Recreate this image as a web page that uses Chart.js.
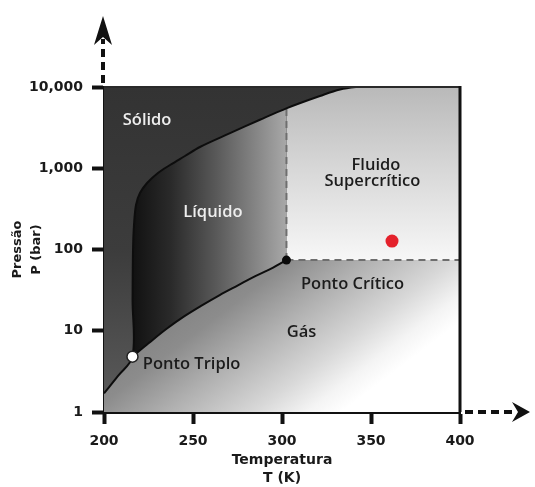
<!DOCTYPE html>
<html lang="pt">
<head>
<meta charset="utf-8">
<title>Diagrama de fases</title>
<script src="https://cdn.jsdelivr.net/npm/chart.js@4.4.1/dist/chart.umd.min.js"></script>
<style>
html,body{margin:0;padding:0;background:#fff;}
canvas{display:block;}
</style>
</head>
<body>
<canvas id="c" width="535" height="487"></canvas>
<script>
// Faixas dos eixos
const tempRange = [200, 400];
const pressureRange = [1, 10000];

// Curva de sublimação seguida da curva de fusão (T em K, P em bar)
const solidBoundaryT = [200, 208, 216, 216.05, 216.3, 216.85, 217.98, 220.2, 224.2, 230.3, 237.1, 245.5, 253.9, 270.8, 287.6, 302.8, 321.3, 332.6, 344, 356];
const solidBoundaryP = [1.7, 2.8, 4.8, 23.9, 98.6, 200, 353, 496, 658, 874, 1096, 1415, 1827, 2700, 3950, 5500, 7740, 9310, 10150, 10800];

// Curva de vaporização, do ponto triplo ao ponto crítico
const vaporizationT = [216, 225, 235, 245, 255, 265, 275, 285, 295, 302.5];
const vaporizationP = [4.8, 7.0, 10.5, 15, 20.5, 27.5, 36, 47, 60, 74];

// Pontos notáveis
const triplePoint = [216, 4.8];
const criticalPoint = [302.5, 74];
const samplePoint = [361.8, 127];

// Marcas dos eixos
const xTickValues = [200, 250, 300, 350, 400];
const yTickValues = [1, 10, 100, 1000, 10000];
const yTickLabels = ['1', '10', '100', '1,000', '10,000'];

// Rótulos das regiões
const regionNames = ['Sólido', 'Líquido', 'Fluido', 'Supercrítico', 'Ponto Crítico', 'Gás', 'Ponto Triplo'];
const regionNameT = [224.2, 261.2, 352.8, 350.8, 339.6, 311, 249.2];
const regionNameP = [3925, 290, 1096, 697, 37.6, 9.65, 3.9];

const pts = (xs, ys) => xs.map((x, i) => ({x: x, y: ys[i]}));

function area(ctx) { return ctx.chart.chartArea; }

function gasFill(ctx) {
  const a = area(ctx);
  if (!a) return '#aaa';
  const w = a.right - a.left, h = a.bottom - a.top;
  const g = ctx.chart.ctx.createLinearGradient(a.left, a.top + h * 0.53, a.left + w * 0.45, a.top + h * 1.18);
  g.addColorStop(0, '#6c6c6c');
  g.addColorStop(0.43, '#8c8c8c');
  g.addColorStop(0.6, '#b0b0b0');
  g.addColorStop(0.8, '#d8d8d8');
  g.addColorStop(0.92, '#f4f4f4');
  g.addColorStop(1, '#ffffff');
  return g;
}

function superFill(ctx) {
  const a = area(ctx);
  if (!a) return '#ddd';
  const ys = ctx.chart.scales.y;
  const g = ctx.chart.ctx.createLinearGradient(0, a.top, 0, ys.getPixelForValue(criticalPoint[1]));
  g.addColorStop(0, '#b9b9b9');
  g.addColorStop(0.45, '#d6d6d6');
  g.addColorStop(1, '#f7f7f7');
  return g;
}

function liquidFill(ctx) {
  const a = area(ctx);
  if (!a) return '#555';
  const xs = ctx.chart.scales.x;
  const g = ctx.chart.ctx.createLinearGradient(xs.getPixelForValue(triplePoint[0]), 0, xs.getPixelForValue(criticalPoint[0]), 0);
  g.addColorStop(0, '#111111');
  g.addColorStop(0.25, '#2a2a2a');
  g.addColorStop(0.55, '#5a5a5a');
  g.addColorStop(0.8, '#858585');
  g.addColorStop(1, '#a8a8a8');
  return g;
}

function solidFill(ctx) {
  const a = area(ctx);
  if (!a) return '#333';
  const g = ctx.chart.ctx.createLinearGradient(0, a.top, 0, a.bottom);
  g.addColorStop(0, '#333333');
  g.addColorStop(0.5, '#3c3c3c');
  g.addColorStop(1, '#5c5c5c');
  return g;
}

// Rótulos das regiões, posicionados pelas escalas do gráfico
const regionLabelPlugin = {
  id: 'regionLabels',
  afterDatasetsDraw(chart) {
    const c = chart.ctx, xs = chart.scales.x, ys = chart.scales.y;
    c.save();
    c.textAlign = 'center';
    c.textBaseline = 'middle';
    c.font = '600 16.5px "Open Sans"';
    regionNames.forEach((name, i) => {
      c.fillStyle = i < 2 ? '#eeeeee' : '#1c1c1c';
      c.fillText(name, xs.getPixelForValue(regionNameT[i]), ys.getPixelForValue(regionNameP[i]));
    });
    c.restore();
  }
};

// Moldura superior/direita e setas tracejadas dos eixos
const frameArrowPlugin = {
  id: 'frameArrows',
  afterDraw(chart) {
    const c = chart.ctx, a = chart.chartArea;
    c.save();
    c.strokeStyle = '#2a2a2a';
    c.lineWidth = 2;
    c.beginPath();
    c.moveTo(a.left, a.top);
    c.lineTo(a.right, a.top);
    c.stroke();
    c.strokeStyle = '#111';
    c.lineWidth = 3;
    c.beginPath();
    c.moveTo(a.right, a.top - 1);
    c.lineTo(a.right, a.bottom);
    c.stroke();

    c.fillStyle = '#111';
    c.strokeStyle = '#111';
    c.lineWidth = 4;
    c.setLineDash([8, 5]);
    // eixo vertical
    const vx = a.left - 1;
    c.beginPath();
    c.moveTo(vx, a.top - 4);
    c.lineTo(vx, a.top - 48);
    c.stroke();
    // eixo horizontal
    const hy = a.bottom;
    c.beginPath();
    c.moveTo(a.right + 5, hy);
    c.lineTo(a.right + 52, hy);
    c.stroke();
    c.setLineDash([]);
    c.beginPath();
    c.moveTo(vx, a.top - 71);
    c.lineTo(vx - 9, a.top - 42);
    c.lineTo(vx, a.top - 50);
    c.lineTo(vx + 9, a.top - 42);
    c.closePath();
    c.fill();
    c.beginPath();
    c.moveTo(a.right + 70, hy);
    c.lineTo(a.right + 52, hy - 10);
    c.lineTo(a.right + 58, hy);
    c.lineTo(a.right + 52, hy + 10);
    c.closePath();
    c.fill();
    c.restore();
  }
};

const tickFont = {family: 'DejaVu Sans', weight: 'bold', size: 14};

new Chart(document.getElementById('c'), {
  type: 'line',
  data: {
    datasets: [
      {
        label: 'Ponto Triplo',
        data: [{x: triplePoint[0], y: triplePoint[1]}],
        showLine: false, pointRadius: 5.5, pointBackgroundColor: '#ffffff',
        pointBorderColor: '#222', pointBorderWidth: 1.5, order: 0
      },
      {
        label: 'Ponto Crítico',
        data: [{x: criticalPoint[0], y: criticalPoint[1]}],
        showLine: false, pointRadius: 4.5, pointBackgroundColor: '#0a0a0a',
        pointBorderColor: '#0a0a0a', pointBorderWidth: 0, order: 0
      },
      {
        label: 'Amostra',
        data: [{x: samplePoint[0], y: samplePoint[1]}],
        showLine: false, pointRadius: 6.5, pointBackgroundColor: '#e4212b',
        pointBorderColor: '#e4212b', pointBorderWidth: 0, order: 0
      },
      {
        label: 'Sólido',
        data: pts(solidBoundaryT, solidBoundaryP),
        borderColor: '#0d0d0d', borderWidth: 2, backgroundColor: solidFill,
        fill: 'end', tension: 0.35, pointRadius: 0, order: 1
      },
      {
        label: 'Isoterma crítica',
        data: [{x: criticalPoint[0], y: criticalPoint[1]}, {x: criticalPoint[0], y: pressureRange[1]}],
        borderColor: '#6e6e6e', borderWidth: 2, borderDash: [7, 5],
        fill: false, pointRadius: 0, order: 2
      },
      {
        label: 'Isóbara crítica',
        data: [{x: criticalPoint[0], y: criticalPoint[1]}, {x: tempRange[1], y: criticalPoint[1]}],
        borderColor: '#6e6e6e', borderWidth: 2, borderDash: [7, 5],
        fill: false, pointRadius: 0, order: 2
      },
      {
        label: 'Líquido',
        data: pts(vaporizationT, vaporizationP),
        borderColor: '#0d0d0d', borderWidth: 2, backgroundColor: liquidFill,
        fill: 'end', tension: 0.35, pointRadius: 0, order: 3
      },
      {
        label: 'Fluido Supercrítico',
        data: [{x: criticalPoint[0], y: pressureRange[1]}, {x: tempRange[1], y: pressureRange[1]}],
        borderWidth: 0, borderColor: 'rgba(0,0,0,0)', backgroundColor: superFill,
        fill: {value: criticalPoint[1]}, pointRadius: 0, order: 4
      },
      {
        label: 'Gás',
        data: [{x: tempRange[0], y: pressureRange[0]}, {x: tempRange[1], y: pressureRange[0]}],
        borderWidth: 0, borderColor: 'rgba(0,0,0,0)', backgroundColor: gasFill,
        fill: 'end', pointRadius: 0, order: 5
      }
    ]
  },
  options: {
    responsive: false,
    devicePixelRatio: 1,
    animation: false,
    events: [],
    layout: {padding: {top: 87, right: 75, left: 0, bottom: 0}},
    plugins: {legend: {display: false}, tooltip: {enabled: false}},
    scales: {
      x: {
        type: 'linear',
        min: tempRange[0], max: tempRange[1],
        afterBuildTicks: s => { s.ticks = xTickValues.map(v => ({value: v})); },
        afterFit: s => { s.height = 75; },
        grid: {display: true, drawOnChartArea: false, drawTicks: true, tickLength: 12, tickWidth: 4, tickColor: '#111'},
        border: {display: true, color: '#111', width: 3},
        ticks: {font: tickFont, color: '#1a1a1a', padding: 9, maxRotation: 0},
        title: {
          display: true, text: ['Temperatura', 'T (K)'], color: '#1a1a1a',
          font: {family: 'DejaVu Sans', weight: 'bold', size: 14, lineHeight: 1.29},
          padding: {top: 0, bottom: 0}
        }
      },
      y: {
        type: 'logarithmic',
        min: pressureRange[0], max: pressureRange[1],
        afterBuildTicks: s => { s.ticks = yTickValues.map(v => ({value: v})); },
        afterFit: s => { s.width = 104; },
        grid: {display: true, drawOnChartArea: false, drawTicks: true, tickLength: 12, tickWidth: 4, tickColor: '#111'},
        border: {display: true, color: '#111', width: 3},
        ticks: {
          font: tickFont, color: '#1a1a1a', padding: 9,
          callback: (v, i) => yTickLabels[i]
        },
        title: {
          display: true, text: ['Pressão', 'P (bar)'], color: '#1a1a1a',
          font: {family: 'DejaVu Sans', weight: 'bold', size: 13, lineHeight: 1.4},
          padding: {top: 9, bottom: 0}
        }
      }
    }
  },
  plugins: [regionLabelPlugin, frameArrowPlugin]
});
</script>
</body>
</html>
